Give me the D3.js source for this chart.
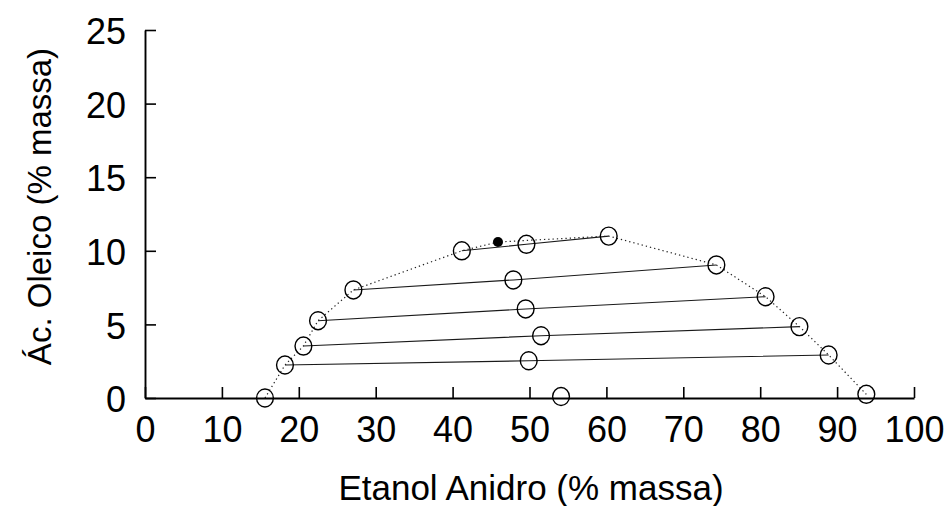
<!DOCTYPE html>
<html>
<head>
<meta charset="utf-8">
<script src="https://cdn.jsdelivr.net/npm/d3@7"></script>
<style>
  html, body { margin: 0; padding: 0; background: #fff; }
  svg { display: block; }
</style>
</head>
<body>
<svg id="chart" width="946" height="506"></svg>
<script>
// Ternary equilibrium data: ethanol vs oleic acid (% mass)
// Oil-rich phase (left branch of the binodal)
const etanolFaseOleosa = [15.6, 18.2, 20.6, 22.5, 27.1, 41.2];
const oleicoFaseOleosa = [0.0, 2.24, 3.53, 5.25, 7.34, 10.0];
// Overall mixture points lying on each tie line
const etanolMistura = [54.1, 49.9, 51.5, 49.5, 47.9, 49.6];
const oleicoMistura = [0.1, 2.53, 4.23, 6.05, 8.02, 10.44];
// Alcohol-rich phase (right branch of the binodal)
const etanolFaseAlcoolica = [93.8, 88.9, 85.1, 80.7, 74.3, 60.3];
const oleicoFaseAlcoolica = [0.25, 2.92, 4.85, 6.88, 9.04, 11.0];
// Plait point
const pontoCritico = [45.9, 10.6];

const xTicks = [0, 10, 20, 30, 40, 50, 60, 70, 80, 90, 100];
const yTicks = [0, 5, 10, 15, 20, 25];

const FONT = "'Liberation Sans', Arial, Helvetica, sans-serif";

const svg = d3.select("#chart");
const x = d3.scaleLinear().domain([0, 100]).range([145, 914]);
const y = d3.scaleLinear().domain([0, 25]).range([398, 30]);

const faseOleosa = etanolFaseOleosa.map((e, i) => [e, oleicoFaseOleosa[i]]);
const mistura = etanolMistura.map((e, i) => [e, oleicoMistura[i]]);
const faseAlcoolica = etanolFaseAlcoolica.map((e, i) => [e, oleicoFaseAlcoolica[i]]);

const line = d3.line().x(d => x(d[0])).y(d => y(d[1]));

// Tie lines: oil phase -> mixture -> alcohol phase
// (the acid-free line lies on the x axis itself, so it is left to the axis)
const linhasAmarracao = faseOleosa
  .map((p, i) => [p, mistura[i], faseAlcoolica[i]])
  .filter(l => l[0][1] > 0);
svg.append("g")
  .selectAll("path")
  .data(linhasAmarracao)
  .join("path")
  .attr("d", line)
  .attr("fill", "none")
  .attr("stroke", "#1a1a1a")
  .attr("stroke-width", 1.1);

// Binodal curve (dotted), through the plait point
const binodal = faseOleosa.concat([pontoCritico], faseAlcoolica.slice().reverse());
svg.append("path")
  .datum(binodal)
  .attr("d", line)
  .attr("fill", "none")
  .attr("stroke", "#222")
  .attr("stroke-width", 1.2)
  .attr("stroke-dasharray", "1.3,3");

// Axes
const yAxis = svg.append("g")
  .attr("transform", `translate(${x(0)},0)`)
  .call(d3.axisLeft(y).tickValues(yTicks).tickSizeInner(-11).tickSizeOuter(0).tickPadding(19));
const xAxis = svg.append("g")
  .attr("transform", `translate(0,${y(0)})`)
  .call(d3.axisBottom(x).tickValues(xTicks).tickSizeInner(-11).tickSizeOuter(0).tickPadding(18));

[yAxis, xAxis].forEach(g => {
  g.attr("font-family", FONT).attr("font-size", 36);
  g.select(".domain").attr("stroke", "#000").attr("stroke-width", 1.9);
  g.selectAll(".tick line").attr("stroke", "#000").attr("stroke-width", 1.6);
  g.selectAll(".tick text").attr("fill", "#000");
});
yAxis.selectAll(".tick text").attr("dy", "0.38em");

// Phase and mixture points (open circles)
const pontos = faseOleosa.concat(mistura, faseAlcoolica);
svg.append("g")
  .selectAll("ellipse")
  .data(pontos)
  .join("ellipse")
  .attr("cx", d => x(d[0]))
  .attr("cy", d => y(d[1]))
  .attr("rx", 8.4)
  .attr("ry", 9)
  .attr("fill", "none")
  .attr("stroke", "#000")
  .attr("stroke-width", 1.4);

// Plait point (filled)
svg.append("circle")
  .attr("cx", x(pontoCritico[0]))
  .attr("cy", y(pontoCritico[1]))
  .attr("r", 5)
  .attr("fill", "#000");

// Axis titles
svg.append("text")
  .attr("x", 531)
  .attr("y", 500)
  .attr("text-anchor", "middle")
  .attr("font-family", FONT)
  .attr("font-size", 35)
  .attr("fill", "#000")
  .text("Etanol Anidro (% massa)");

svg.append("text")
  .attr("transform", "translate(51,206.5) rotate(-90)")
  .attr("text-anchor", "middle")
  .attr("font-family", FONT)
  .attr("font-size", 33)
  .attr("fill", "#000")
  .text("Ác. Oleico (% massa)");
</script>
</body>
</html>
